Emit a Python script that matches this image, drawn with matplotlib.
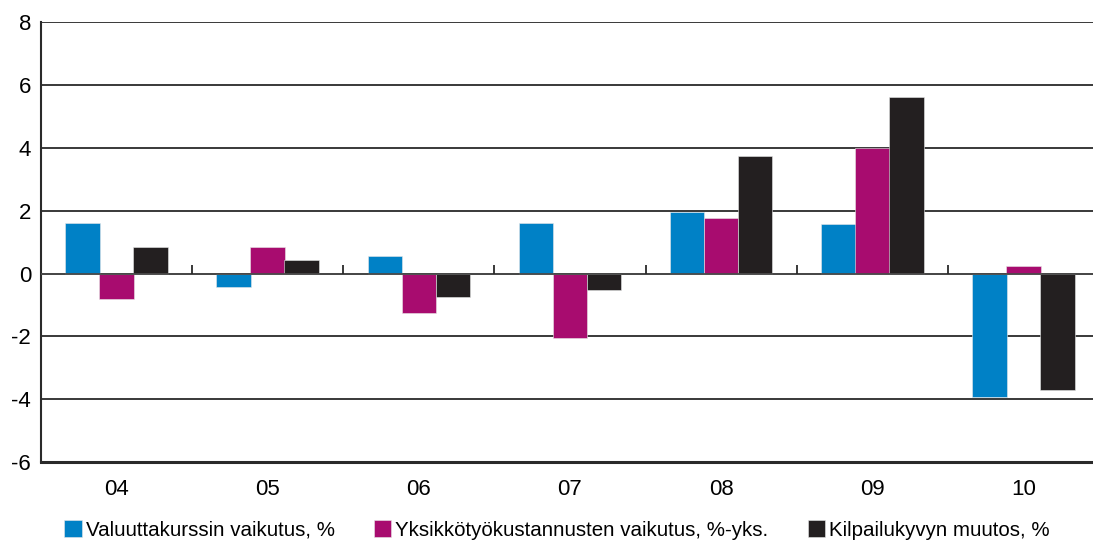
import matplotlib
matplotlib.use("Agg")
import matplotlib.pyplot as plt
import numpy as np

plt.rcParams['font.family'] = ['Liberation Sans', 'DejaVu Sans']

categories = ["04", "05", "06", "07", "08", "09", "10"]
valuutta = [1.61, -0.42, 0.56, 1.60, 1.96, 1.57, -3.92]
yksikko = [-0.81, 0.83, -1.26, -2.06, 1.77, 4.00, 0.24]
kilpailu = [0.84, 0.44, -0.74, -0.52, 3.74, 5.61, -3.71]
series_names = ["Valuuttakurssin vaikutus, %",
                "Yksikkötyökustannusten vaikutus, %-yks.",
                "Kilpailukyvyn muutos, %"]
colors = ["#0081C6", "#A80C6F", "#231F20"]
yticks = [-6, -4, -2, 0, 2, 4, 6, 8]

W, H = 1093, 545
fig = plt.figure(figsize=(W / 100, H / 100), dpi=100)
ax = fig.add_axes([40.8 / W, (H - 462) / H, 1 - 40.8 / W, (462 - 22.3) / H])

x = np.arange(len(categories))
width = 0.227
offsets = [-0.225, 0.0, 0.225]
for vals, off, c, name in zip([valuutta, yksikko, kilpailu], offsets, colors, series_names):
    ax.bar(x + off, vals, width=width, color=c, label=name, zorder=3,
           edgecolor='#e8e8e8', linewidth=0.4)

ax.set_ylim(-6, 8)
ax.set_xlim(-0.5, -0.5 + (W - 40.8) / 151.2)
ax.set_yticks(yticks)
ax.set_yticklabels([str(t) for t in yticks], fontsize=16)
ax.set_xticks(x)
ax.set_xticklabels(categories, fontsize=16)
ax.tick_params(axis='both', length=0)
ax.tick_params(axis='x', pad=12)
ax.tick_params(axis='y', pad=7)

for t in yticks:
    if t != -6:
        ax.axhline(t, color='#2a2a2a', linewidth=1.3, zorder=1)
ax.axhline(0, color='#4a4a4a', linewidth=1.3, zorder=4)

# small category separator ticks on the zero line
ax.vlines(x[:-1] + 0.5, 0, 0.27, color='#2a2a2a', linewidth=1.3, zorder=4)

for s in ['top', 'right']:
    ax.spines[s].set_visible(False)
ax.spines['left'].set_color('#2a2a2a')
ax.spines['left'].set_linewidth(1.5)
ax.spines['bottom'].set_color('#2a2a2a')
ax.spines['bottom'].set_linewidth(2.2)

leg = fig.legend(loc='center', bbox_to_anchor=(557 / W, (H - 530) / H), ncol=3,
                 frameon=False, fontsize=14.8, handlelength=0.85, handleheight=0.85,
                 handletextpad=0.2, columnspacing=1.9, borderaxespad=0)

fig.savefig("out.png", dpi=100)
